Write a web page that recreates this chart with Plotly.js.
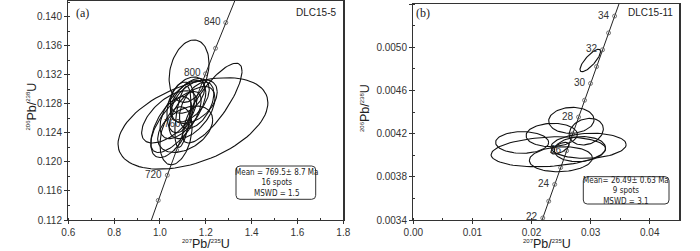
<!DOCTYPE html>
<html>
<head>
<meta charset="utf-8">
<script src="https://cdn.plot.ly/plotly-3.0.1.min.js"></script>
<style>html,body{margin:0;padding:0;background:#fff;}#chart{width:700px;height:251px;}</style>
</head>
<body>
<div id="chart"></div>
<script>
// ---------- Panel (a) DLC15-5 : concordia reference points ----------
const concA_age = [660, 680, 700, 720, 740, 760, 780, 800, 820, 840, 860, 880];
const concA_x   = [0.91554, 0.95365, 0.99251, 1.03215, 1.07257, 1.11380, 1.15585, 1.19873, 1.24247, 1.28707, 1.33257, 1.37897];
const concA_y   = [0.10781, 0.11125, 0.11470, 0.11817, 0.12164, 0.12513, 0.12862, 0.13213, 0.13565, 0.13918, 0.14272, 0.14627];
const concA_labels = [720, 760, 800, 840];

// ---------- Panel (a) ellipses (centre, 1-sigma half-widths, rho) ----------
const ellA_x   = [1.127, 1.228, 1.144, 1.10, 1.13, 1.07, 1.14, 1.05, 1.16, 1.10, 1.11, 1.07, 1.15, 1.12, 1.04, 1.09];
const ellA_sx  = [0.087, 0.130, 0.327, 0.10, 0.085, 0.11, 0.10, 0.09, 0.075, 0.035, 0.12, 0.07, 0.10, 0.075, 0.12, 0.06];
const ellA_y   = [0.1325, 0.1281, 0.1253, 0.1272, 0.1285, 0.1255, 0.1268, 0.1248, 0.1278, 0.1262, 0.1245, 0.1236, 0.1283, 0.1292, 0.1262, 0.1275];
const ellA_sy  = [0.0043, 0.0055, 0.0063, 0.0040, 0.0030, 0.0042, 0.0036, 0.0042, 0.0032, 0.0042, 0.0032, 0.0040, 0.0030, 0.0025, 0.0036, 0.0035];
const ellA_rho = [0.25, 0.8, 0.45, 0.6, 0.5, 0.7, 0.55, 0.55, 0.5, 0.5, 0.4, 0.3, 0.45, 0.4, 0.6, 0.3];

// ---------- Panel (b) DLC15-11 : concordia reference points ----------
const concB_age = [21, 22, 23, 24, 25, 26, 27, 28, 29, 30, 31, 32, 33, 34, 35, 36];
const concB_x   = [0.020897, 0.021903, 0.022910, 0.023918, 0.024927, 0.025937, 0.026948, 0.027960, 0.028972, 0.029986, 0.031001, 0.032017, 0.033034, 0.034052, 0.035071, 0.036091];
const concB_y   = [0.0032629, 0.0034186, 0.0035742, 0.0037299, 0.0038857, 0.0040414, 0.0041972, 0.0043529, 0.0045088, 0.0046646, 0.0048204, 0.0049763, 0.0051322, 0.0052882, 0.0054441, 0.0056001];
const concB_labels = [22, 24, 26, 28, 30, 32, 34];

// ---------- Panel (b) ellipses ----------
const ellB_x   = [0.02674, 0.02926, 0.02342, 0.01841, 0.02284, 0.02965, 0.02497, 0.02819, 0.02482, 0.02994];
const ellB_sx  = [0.00384, 0.00289, 0.00434, 0.00449, 0.00968, 0.00636, 0.00533, 0.00434, 0.00154, 0.00174];
const ellB_y   = [0.004323, 0.004218, 0.004187, 0.004118, 0.004032, 0.004087, 0.003963, 0.004056, 0.004065, 0.004877];
const ellB_sy  = [0.000120, 0.000123, 0.000108, 0.000100, 0.000139, 0.000116, 0.000116, 0.000116, 0.000054, 0.000104];
const ellB_rho = [0.05, 0.2, 0.05, 0.0, 0.2, 0.1, 0.1, 0.1, 0.6, 0.8];

// ---------- text ----------
const sampleA = 'DLC15-5', sampleB = 'DLC15-11';
const statsA = ['Mean = 769.5± 8.7 Ma', '16 spots', 'MSWD = 1.5'];
const statsB = ['Mean= 26.49± 0.63 Ma', '9 spots', 'MSWD = 3.1'];

const W = 700, H = 251;
const SANS = 'Liberation Sans, Arial, sans-serif';
const NARROW = 'Liberation Sans Narrow, DejaVu Sans Condensed, Liberation Sans, sans-serif';
const INK = '#222';

function ellipseTrace(cx, sx, cy, sy, rho, xa, ya) {
  const xs = [], ys = [], n = 90, k = Math.sqrt(1 - rho * rho);
  for (let i = 0; i <= n; i++) {
    const t = 2 * Math.PI * i / n;
    xs.push(cx + sx * Math.cos(t));
    ys.push(cy + sy * (rho * Math.cos(t) + k * Math.sin(t)));
  }
  return {x: xs, y: ys, xaxis: xa, yaxis: ya, type: 'scatter', mode: 'lines',
          line: {color: '#111', width: 1.1}, hoverinfo: 'skip', showlegend: false};
}

const traces = [];
traces.push({x: concA_x, y: concA_y, xaxis: 'x', yaxis: 'y', type: 'scatter', mode: 'lines+markers',
  line: {color: '#222', width: 1}, marker: {symbol: 'circle-open', size: 4, color: '#555', line: {width: 0.8}},
  showlegend: false, hoverinfo: 'skip'});
traces.push({x: concB_x, y: concB_y, xaxis: 'x2', yaxis: 'y2', type: 'scatter', mode: 'lines+markers',
  line: {color: '#222', width: 1}, marker: {symbol: 'circle-open', size: 4, color: '#555', line: {width: 0.8}},
  showlegend: false, hoverinfo: 'skip'});
ellA_x.forEach((v, i) => traces.push(ellipseTrace(v, ellA_sx[i], ellA_y[i], ellA_sy[i], ellA_rho[i], 'x', 'y')));
ellB_x.forEach((v, i) => traces.push(ellipseTrace(v, ellB_sx[i], ellB_y[i], ellB_sy[i], ellB_rho[i], 'x2', 'y2')));

function px(x) { return x / W; }
function py(y) { return 1 - y / H; }

function baseAxis(extra) {
  return Object.assign({
    showline: true, linecolor: '#333', linewidth: 1.3, mirror: true,
    showgrid: false, zeroline: false,
    ticks: 'outside', ticklen: 3, tickwidth: 1, tickcolor: '#333',
    tickfont: {family: SANS, size: 10, color: '#333'}
  }, extra);
}
function overlayAxis(extra) {
  return Object.assign({
    showline: false, showgrid: false, zeroline: false, showticklabels: false,
    ticks: 'inside', ticklen: 3, tickwidth: 1, tickcolor: '#333'
  }, extra);
}

const domAx = [px(68.3), px(343.3)], domAy = [py(220), py(1)];
const domBx = [px(413.3), px(679.3)], domBy = [py(220), py(4)];
const rAx = [0.6, 1.8], rAy = [0.112, 0.14216];
const rBx = [0, 0.045], rBy = [0.0034, 0.0054];

const annotations = [];
function note(text, x, y, opts) {
  annotations.push(Object.assign({text: text, x: px(x), y: py(y), xref: 'paper', yref: 'paper',
    xanchor: 'center', yanchor: 'middle',
    showarrow: false, font: {family: SANS, size: 10, color: INK}}, opts || {}));
}
// concordia labels
concA_labels.forEach(a => {
  const i = concA_age.indexOf(a);
  annotations.push({text: String(a), x: concA_x[i], y: concA_y[i], xref: 'x', yref: 'y', showarrow: false,
    xanchor: 'right', yanchor: 'middle', xshift: -3, yshift: 1, font: {family: SANS, size: 10, color: '#333'}});
});
concB_labels.forEach(a => {
  const i = concB_age.indexOf(a);
  annotations.push({text: String(a), x: concB_x[i], y: concB_y[i], xref: 'x2', yref: 'y2', showarrow: false,
    xanchor: 'right', yanchor: 'middle', xshift: -3, yshift: 1, font: {family: SANS, size: 10, color: '#333'}});
});
// panel tags & sample names
note('(a)', 82, 13, {font: {family: 'Liberation Serif, Times New Roman, serif', size: 12, color: INK}});
note('(b)', 422.5, 13, {font: {family: 'Liberation Serif, Times New Roman, serif', size: 12, color: INK}});
note(sampleA, 338, 13, {xanchor: 'right', font: {family: SANS, size: 10, color: INK}});
note(sampleB, 675, 13, {xanchor: 'right', font: {family: SANS, size: 10, color: INK}});
// stats boxes (one block of three lines each)
const boxFont = {family: NARROW, size: 8, color: INK};
note(statsA.join('<br>'), 276, 182.5, {font: boxFont});
note(statsB.join('<br>'), 626.2, 190.5, {font: boxFont});
// axis titles
const s = t => '<sup><span style="font-size:6px">' + t + '</span></sup>';
const ytitle = s('206') + 'Pb/' + s('238') + 'U';
const xtitle = s('207') + 'Pb/' + s('235') + 'U';
note(ytitle, 31, 106.5, {textangle: -90, font: {family: SANS, size: 12.5, color: INK}});
note(ytitle, 365, 108, {textangle: -90, font: {family: SANS, size: 12.5, color: INK}});
note(xtitle, 205.8, 243.5, {font: {family: SANS, size: 12.5, color: INK}});
note(xtitle, 546.5, 243.5, {font: {family: SANS, size: 12.5, color: INK}});

function roundRect(x0, y0, x1, y1, r) {
  const P = (x, y) => px(x) + ',' + py(y);
  return 'M' + P(x0 + r, y0) + ' L' + P(x1 - r, y0) + ' Q' + P(x1, y0) + ' ' + P(x1, y0 + r) +
    ' L' + P(x1, y1 - r) + ' Q' + P(x1, y1) + ' ' + P(x1 - r, y1) +
    ' L' + P(x0 + r, y1) + ' Q' + P(x0, y1) + ' ' + P(x0, y1 - r) +
    ' L' + P(x0, y0 + r) + ' Q' + P(x0, y0) + ' ' + P(x0 + r, y0) + ' Z';
}
const shapes = [
  {type: 'path', xref: 'paper', yref: 'paper', path: roundRect(236, 166, 315.7, 199.3, 4), line: {color: '#333', width: 1}, fillcolor: 'rgba(255,255,255,1)', layer: 'above'},
  {type: 'path', xref: 'paper', yref: 'paper', path: roundRect(583.3, 176.7, 669, 204, 4), line: {color: '#333', width: 1}, fillcolor: 'rgba(255,255,255,1)', layer: 'above'}
];

const layout = {
  width: W, height: H, autosize: false,
  margin: {l: 0, r: 0, t: 0, b: 0, pad: 0},
  paper_bgcolor: '#fff', plot_bgcolor: '#fff',
  showlegend: false,
  xaxis: baseAxis({domain: domAx, range: rAx, tick0: 0.6, dtick: 0.2, tickformat: '.1f', anchor: 'y', minor: {dtick: 0.1, ticks: 'inside', ticklen: 2, tickcolor: '#333'}}),
  yaxis: baseAxis({domain: domAy, range: rAy, tick0: 0.112, dtick: 0.004, tickformat: '.3f', anchor: 'x', minor: {dtick: 0.002, ticks: 'inside', ticklen: 2, tickcolor: '#333'}}),
  xaxis2: baseAxis({domain: domBx, range: rBx, tick0: 0, dtick: 0.01, tickformat: '.2f', anchor: 'y2', minor: {dtick: 0.005, ticks: 'inside', ticklen: 2, tickcolor: '#333'}}),
  yaxis2: baseAxis({domain: domBy, range: rBy, tick0: 0.0034, dtick: 0.0004, tickformat: '.4f', anchor: 'x2', minor: {dtick: 0.0002, ticks: 'inside', ticklen: 2, tickcolor: '#333'}}),
  xaxis3: overlayAxis({overlaying: 'x', range: rAx, tick0: 0.6, dtick: 0.2, anchor: 'y'}),
  yaxis3: overlayAxis({overlaying: 'y', range: rAy, tick0: 0.112, dtick: 0.004, anchor: 'x'}),
  xaxis4: overlayAxis({overlaying: 'x2', range: rBx, tick0: 0, dtick: 0.01, anchor: 'y2'}),
  yaxis4: overlayAxis({overlaying: 'y2', range: rBy, tick0: 0.0034, dtick: 0.0004, anchor: 'x2'}),
  annotations: annotations,
  shapes: shapes
};

Plotly.newPlot('chart', traces, layout, {staticPlot: true, displayModeBar: false});
</script>
</body>
</html>
